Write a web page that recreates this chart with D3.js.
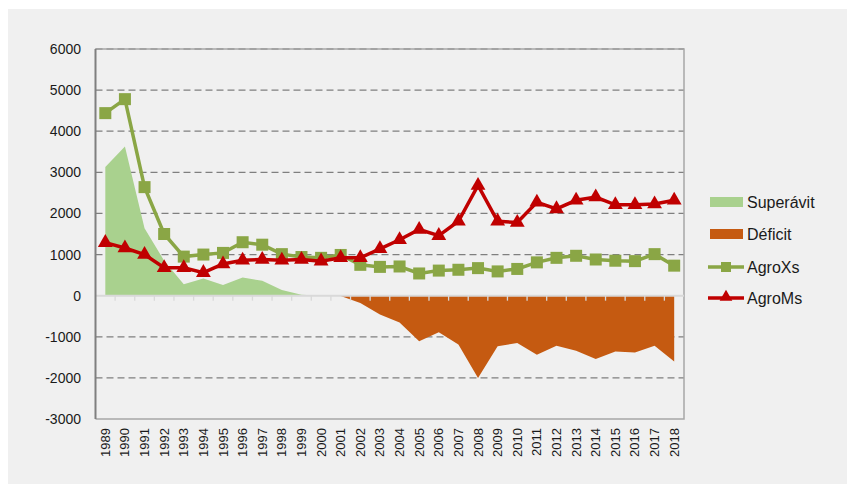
<!DOCTYPE html>
<html>
<head>
<meta charset="utf-8">
<script src="https://d3js.org/d3.v7.min.js"></script>
<style>
  body { margin: 0; background: #fff; }
  text { font-family: "Liberation Sans", Arial, sans-serif; fill: #1a1a1a; }
  .xlab { font-family: "Liberation Sans Narrow", "Arial Narrow", "Liberation Sans", Arial, sans-serif; }
</style>
</head>
<body>
<div id="chart"></div>
<script>
var years = [1989, 1990, 1991, 1992, 1993, 1994, 1995, 1996, 1997, 1998, 1999, 2000, 2001, 2002, 2003,
  2004, 2005, 2006, 2007, 2008, 2009, 2010, 2011, 2012, 2013, 2014, 2015, 2016, 2017, 2018];
var agroXs = [4440, 4780, 2640, 1500, 950, 1000, 1040, 1300, 1240, 1010, 940, 920, 990, 750, 700,
  710, 540, 610, 630, 670, 590, 650, 810, 920, 970, 880, 850, 840, 1010, 730];
var agroMs = [1290, 1160, 1000, 680, 680, 560, 770, 860, 880, 860, 880, 840, 920, 920, 1140,
  1360, 1610, 1460, 1810, 2680, 1810, 1780, 2270, 2110, 2320, 2400, 2210, 2210, 2230, 2320];
var superavit = [3130, 3630, 1640, 850, 280, 420, 260, 440, 360, 140, 20, 0, 0, 0, 0,
  0, 0, 0, 0, 0, 0, 0, 0, 0, 0, 0, 0, 0, 0, 0];
var deficit = [0, 0, 0, 0, 0, 0, 0, 0, 0, 0, 0, 0, -10, -180, -460,
  -650, -1110, -890, -1190, -2000, -1230, -1150, -1440, -1220, -1340, -1540, -1360, -1380, -1220, -1600];
var yTicks = [-3000, -2000, -1000, 0, 1000, 2000, 3000, 4000, 5000, 6000];
var legendNames = ['Superávit', 'Déficit', 'AgroXs', 'AgroMs'];

var W = 847, H = 484;
var pLeft = 95.5, pRight = 684, pTop = 49, pBottom = 419;

var svg = d3.select('#chart').append('svg').attr('width', W).attr('height', H);
svg.append('rect').attr('x', 8).attr('y', 9).attr('width', W - 8).attr('height', H - 9).attr('fill', '#f0f0f0');

var x = d3.scaleBand().domain(years).range([pLeft, pRight]);
var y = d3.scaleLinear().domain([-3000, 6000]).range([pBottom, pTop]);
function cx(d, i) { return x(years[i]) + x.bandwidth() / 2; }

// gridlines
svg.append('g').selectAll('line').data(yTicks.filter(function(t) { return t != 0 && t != -3000; }))
  .enter().append('line')
  .attr('x1', pLeft).attr('x2', pRight)
  .attr('y1', function(d) { return y(d); }).attr('y2', function(d) { return y(d); })
  .attr('stroke', '#7f7f7f').attr('stroke-width', 1.3).attr('stroke-dasharray', '7,4');

// areas
var area = d3.area().x(cx).y0(y(0)).y1(function(d) { return y(d); });
svg.append('path').datum(superavit).attr('d', area).attr('fill', '#a9d18e');
svg.append('path').datum(deficit).attr('d', area).attr('fill', '#c55a11');

// frame
svg.append('path').attr('d', 'M' + pLeft + ',' + pTop + 'H' + pRight + 'V' + pBottom + 'H' + pLeft)
  .attr('fill', 'none').attr('stroke', '#a6a6a6').attr('stroke-width', 1.5);

// zero axis + ticks
svg.append('line').attr('x1', pLeft).attr('x2', pRight).attr('y1', y(0)).attr('y2', y(0))
  .attr('stroke', '#d9d9d9').attr('stroke-width', 2);
svg.append('g').selectAll('line').data(years.slice(1)).enter().append('line')
  .attr('x1', function(d) { return x(d); }).attr('x2', function(d) { return x(d); })
  .attr('y1', y(0)).attr('y2', y(0) + 5)
  .attr('stroke', '#d9d9d9').attr('stroke-width', 1.3);

// y axis
svg.append('line').attr('x1', pLeft).attr('x2', pLeft).attr('y1', pTop).attr('y2', pBottom)
  .attr('stroke', '#7f7f7f').attr('stroke-width', 2);
svg.append('g').selectAll('text').data(yTicks).enter().append('text')
  .attr('x', 81).attr('y', function(d) { return y(d); })
  .attr('text-anchor', 'end').attr('dominant-baseline', 'central')
  .style('font-size', '14px')
  .text(function(d) { return d; });

// x labels
svg.append('g').selectAll('text').data(years).enter().append('text')
  .attr('class', 'xlab')
  .attr('transform', function(d) { return 'translate(' + (x(d) + x.bandwidth() / 2) + ',428) rotate(-90)'; })
  .attr('text-anchor', 'end').attr('dominant-baseline', 'central')
  .style('font-size', '13px')
  .text(function(d) { return d; });

// lines
var line = d3.line().x(cx).y(function(d) { return y(d); });
svg.append('path').datum(agroXs).attr('d', line).attr('fill', 'none')
  .attr('stroke', '#8aa645').attr('stroke-width', 3.5);
svg.append('g').selectAll('rect').data(agroXs).enter().append('rect')
  .attr('x', function(d, i) { return cx(d, i) - 6; }).attr('y', function(d) { return y(d) - 6; })
  .attr('width', 12).attr('height', 12).attr('fill', '#8aa645');

var tri = d3.symbol().type(d3.symbolTriangle).size(95);
svg.append('path').datum(agroMs).attr('d', line).attr('fill', 'none')
  .attr('stroke', '#c00000').attr('stroke-width', 3.5);
svg.append('g').selectAll('path').data(agroMs).enter().append('path')
  .attr('d', tri)
  .attr('transform', function(d, i) { return 'translate(' + cx(d, i) + ',' + y(d) + ')'; })
  .attr('fill', '#c00000');

// legend
var lg = svg.append('g');
var ly = [202, 234, 267, 298];
lg.append('rect').attr('x', 710).attr('y', ly[0] - 5).attr('width', 33).attr('height', 10).attr('fill', '#a9d18e');
lg.append('rect').attr('x', 710).attr('y', ly[1] - 5).attr('width', 33).attr('height', 10).attr('fill', '#c55a11');
lg.append('line').attr('x1', 708).attr('x2', 744).attr('y1', ly[2]).attr('y2', ly[2])
  .attr('stroke', '#8aa645').attr('stroke-width', 3.5);
lg.append('rect').attr('x', 721).attr('y', ly[2] - 5).attr('width', 10).attr('height', 10).attr('fill', '#8aa645');
lg.append('line').attr('x1', 708).attr('x2', 744).attr('y1', ly[3]).attr('y2', ly[3])
  .attr('stroke', '#c00000').attr('stroke-width', 3.5);
lg.append('path').attr('d', d3.symbol().type(d3.symbolTriangle).size(70))
  .attr('transform', 'translate(726,' + (ly[3] - 1) + ')').attr('fill', '#c00000');
lg.selectAll('text').data(legendNames).enter().append('text')
  .attr('x', 747).attr('y', function(d, i) { return ly[i]; })
  .attr('dominant-baseline', 'central')
  .style('font-size', '16px')
  .text(function(d) { return d; });
</script>
</body>
</html>
